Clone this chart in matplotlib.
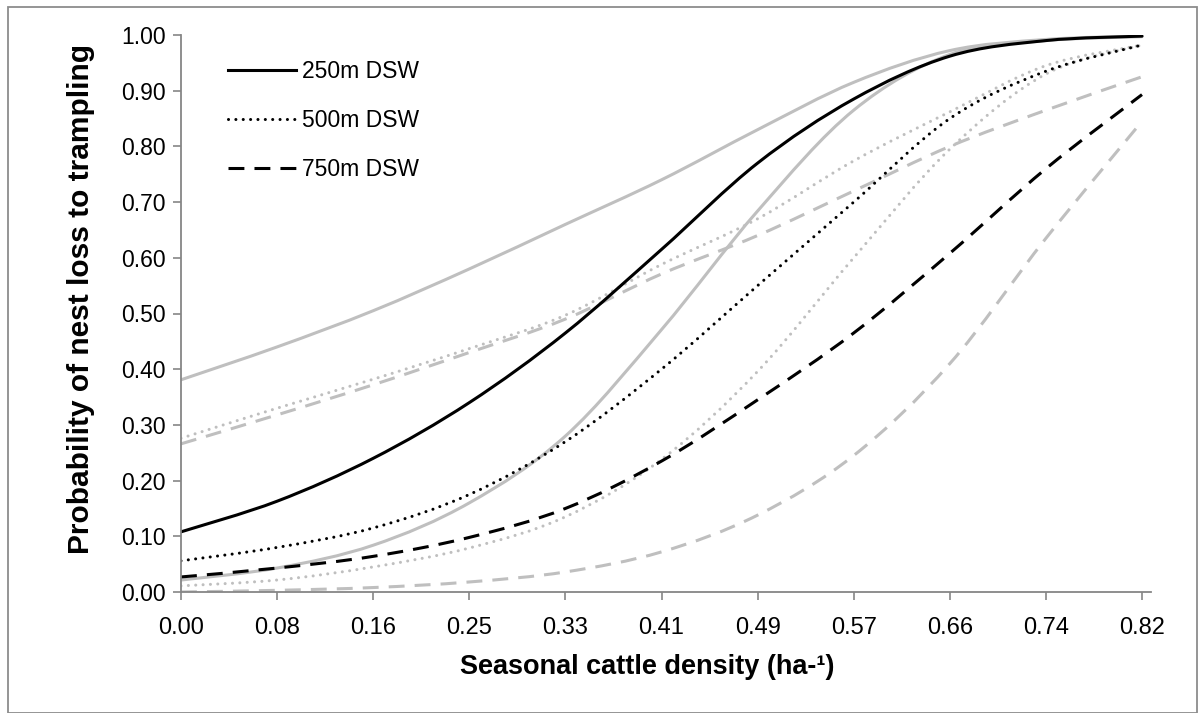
import matplotlib
matplotlib.use("Agg")
import matplotlib.pyplot as plt
import numpy as np
from matplotlib.path import Path
from matplotlib.patches import PathPatch, Rectangle
from matplotlib.lines import Line2D

# ---------------- data ----------------
density_labels = ["0.00", "0.08", "0.16", "0.25", "0.33", "0.41", "0.49",
                  "0.57", "0.66", "0.74", "0.82"]

black_250 = [0.108, 0.163, 0.240, 0.340, 0.465, 0.615, 0.770, 0.885, 0.962, 0.990, 0.998]
black_500 = [0.056, 0.080, 0.115, 0.175, 0.270, 0.400, 0.550, 0.700, 0.850, 0.935, 0.982]
black_750 = [0.027, 0.043, 0.064, 0.098, 0.150, 0.235, 0.345, 0.465, 0.608, 0.760, 0.893]

grey_solid_hi = [0.381, 0.440, 0.505, 0.580, 0.660, 0.740, 0.830, 0.915, 0.972, 0.992, 0.998]
grey_solid_lo = [0.0215, 0.043, 0.084, 0.160, 0.280, 0.471, 0.684, 0.865, 0.965, 0.990, 0.997]
grey_dot_hi = [0.276, 0.330, 0.382, 0.437, 0.497, 0.588, 0.670, 0.774, 0.862, 0.945, 0.982]
grey_dot_lo = [0.011, 0.0215, 0.045, 0.079, 0.135, 0.238, 0.396, 0.600, 0.795, 0.930, 0.982]
grey_dash_hi = [0.266, 0.318, 0.372, 0.430, 0.490, 0.571, 0.640, 0.720, 0.800, 0.865, 0.925]
grey_dash_lo = [0.000, 0.003, 0.008, 0.018, 0.036, 0.072, 0.138, 0.245, 0.410, 0.635, 0.845]

legend_labels = ["250m DSW", "500m DSW", "750m DSW"]

REG = ["Liberation Sans", "DejaVu Sans"]

W, H = 1204, 713
fig = plt.figure(figsize=(W / 100, H / 100), dpi=100)

# outer grey frame
fig.patches.append(Rectangle((8 / W, 0.0), (1197 - 8) / W, (H - 7) / H,
                             transform=fig.transFigure, fill=False,
                             edgecolor="#8c8c8c", linewidth=1.3))

ax_left, ax_right, ax_top, ax_bot = 181, 1151, 35, 592
ax = fig.add_axes([ax_left / W, (H - ax_bot) / H, (ax_right - ax_left) / W,
                   (ax_bot - ax_top) / H])

x = np.arange(len(density_labels), dtype=float)
ax.set_xlim(0, 10 + 9 / 96.1)
ax.set_ylim(0, 1.0)


def smooth_patch(xs, ys, color, lw, ls, cap="butt"):
    pts = np.column_stack([xs, ys]).astype(float)
    n = len(pts)
    verts = [pts[0]]
    codes = [Path.MOVETO]
    for i in range(n - 1):
        p0 = pts[i - 1] if i > 0 else pts[i]
        p1 = pts[i]
        p2 = pts[i + 1]
        p3 = pts[i + 2] if i + 2 < n else pts[i + 1]
        verts += [p1 + (p2 - p0) / 6.0, p2 - (p3 - p1) / 6.0, p2]
        codes += [Path.CURVE4] * 3
    patch = PathPatch(Path(np.array(verts), codes), fill=False, edgecolor=color,
                      linewidth=lw, linestyle=ls, capstyle=cap, joinstyle="round")
    ax.add_patch(patch)


GREY = "#bfbfbf"
DOT = (0, (0.01, 2.4))
DASH = (0, (5.2, 3.3))
lw = 2.2

smooth_patch(x, grey_dash_lo, GREY, lw, DASH)
smooth_patch(x, grey_dash_hi, GREY, lw, DASH)
smooth_patch(x, grey_dot_lo, GREY, lw, DOT, cap="round")
smooth_patch(x, grey_dot_hi, GREY, lw, DOT, cap="round")
smooth_patch(x, grey_solid_lo, GREY, lw, "-", cap="round")
smooth_patch(x, grey_solid_hi, GREY, lw, "-", cap="round")
smooth_patch(x, black_750, "black", lw, DASH)
smooth_patch(x, black_500, "black", lw, DOT, cap="round")
smooth_patch(x, black_250, "black", lw, "-", cap="round")

# axes styling
for s in ["top", "right"]:
    ax.spines[s].set_visible(False)
for s in ["left", "bottom"]:
    ax.spines[s].set_color("#868686")
    ax.spines[s].set_linewidth(1.3)

ax.set_xticks(x)
ax.set_xticklabels(density_labels, fontfamily=REG, fontsize=17)
yt = np.round(np.arange(0, 1.0001, 0.1), 2)
ax.set_yticks(yt)
ax.set_yticklabels([f"{v:.2f}" for v in yt], fontfamily=REG, fontsize=16.5)
ax.tick_params(axis="both", direction="out", length=6, width=1.2, color="#868686")
ax.tick_params(axis="x", pad=12)
ax.tick_params(axis="y", pad=5)

# legend
handles = [
    Line2D([], [], color="black", lw=lw, ls="-"),
    Line2D([], [], color="black", lw=lw, ls=DOT, dash_capstyle="round"),
    Line2D([], [], color="black", lw=lw, ls=DASH),
]
ax.legend(handles, legend_labels, loc="upper left",
          bbox_to_anchor=(228 / W, 1 - 60 / H), bbox_transform=fig.transFigure,
          frameon=False, borderpad=0, borderaxespad=0, handlelength=2.95,
          handletextpad=0.3, labelspacing=1.14,
          prop={"family": REG, "size": 16.5})

# axis titles
fig.text(81 / W, 1 - 299 / H, "Probability of nest loss to trampling",
         rotation=90, ha="center", va="center", fontsize=21.5, fontweight="bold",
         family=REG)
fig.text(647 / W, 1 - 667 / H, "Seasonal cattle density (ha-\u00b9)",
         ha="center", va="center", fontsize=19.5, fontweight="bold",
         family=REG)

fig.savefig("out.png", dpi=100)
